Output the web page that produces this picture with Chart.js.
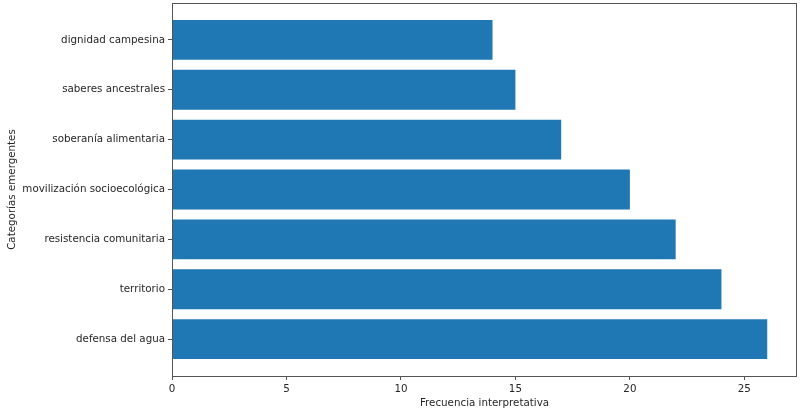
<!DOCTYPE html>
<html>
<head>
<meta charset="utf-8">
<script src="https://cdn.jsdelivr.net/npm/chart.js@4/dist/chart.umd.min.js"></script>
<style>
html,body{margin:0;padding:0;background:#fff;}
#wrap{width:803px;height:414px;position:relative;}
</style>
</head>
<body>
<div id="wrap"><canvas id="c" width="803" height="414"></canvas></div>
<script>
const categories = ["defensa del agua","territorio","resistencia comunitaria","movilización socioecológica","soberanía alimentaria","saberes ancestrales","dignidad campesina"];
const frequencies = [26,24,22,20,17,15,14];
const xTicks = [0,5,10,15,20,25];
const xTitle = "Frecuencia interpretativa";
const yTitle = "Categorías emergentes";

const FONT = "'DejaVu Sans', sans-serif";
const FS = 10.3;
const TXT = '#262626';
const AX = '#555';

const frame = {
  id:'frame',
  afterDatasetsDraw(chart){
    const a = chart.chartArea, ctx = chart.ctx;
    ctx.save();
    ctx.strokeStyle = AX;
    ctx.lineWidth = 1;
    ctx.strokeRect(Math.round(a.left)+0.5, Math.round(a.top)+0.5, Math.round(a.right-a.left)-1, Math.round(a.bottom-a.top));
    ctx.restore();
  }
};

new Chart(document.getElementById('c'), {
  type:'bar',
  data:{
    datasets:[{
      data: categories.map((c,i)=>({x:frequencies[i], y:i})),
      backgroundColor:'#1f77b4',
      borderWidth:0,
      barPercentage:0.8,
      categoryPercentage:1.0
    }]
  },
  options:{
    indexAxis:'y',
    responsive:false,
    animation:false,
    devicePixelRatio:1,
    layout:{padding:{top:3, right:6, left:6, bottom:0}},
    plugins:{legend:{display:false}, tooltip:{enabled:false}, title:{display:false}},
    scales:{
      x:{
        type:'linear', min:0, max:27.3, offset:false,
        afterBuildTicks(s){ s.ticks = xTicks.map(v=>({value:v})); },
        afterFit(s){ s.height = 38; },
        grid:{drawOnChartArea:false, drawTicks:true, tickLength:4, color:AX, offset:false},
        border:{display:false},
        ticks:{color:TXT, font:{family:FONT, size:FS}, padding:3, maxRotation:0},
        title:{display:true, text:xTitle, color:TXT, font:{family:FONT, size:FS}, padding:{top:0,bottom:4}}
      },
      y:{
        type:'linear', min:-0.74, max:6.74, offset:false,
        afterBuildTicks(s){ s.ticks = categories.map((c,i)=>({value:i})); },
        afterFit(s){ s.width = 166; s.paddingTop = 0; s.paddingBottom = 0; },
        grid:{drawOnChartArea:false, drawTicks:true, tickLength:4, color:AX, offset:false},
        border:{display:false},
        ticks:{color:TXT, font:{family:FONT, size:FS}, padding:3, callback:(v)=>categories[v]},
        title:{display:true, text:yTitle, color:TXT, font:{family:FONT, size:FS}, padding:{top:0,bottom:0}}
      }
    }
  },
  plugins:[frame]
});
</script>
</body>
</html>
